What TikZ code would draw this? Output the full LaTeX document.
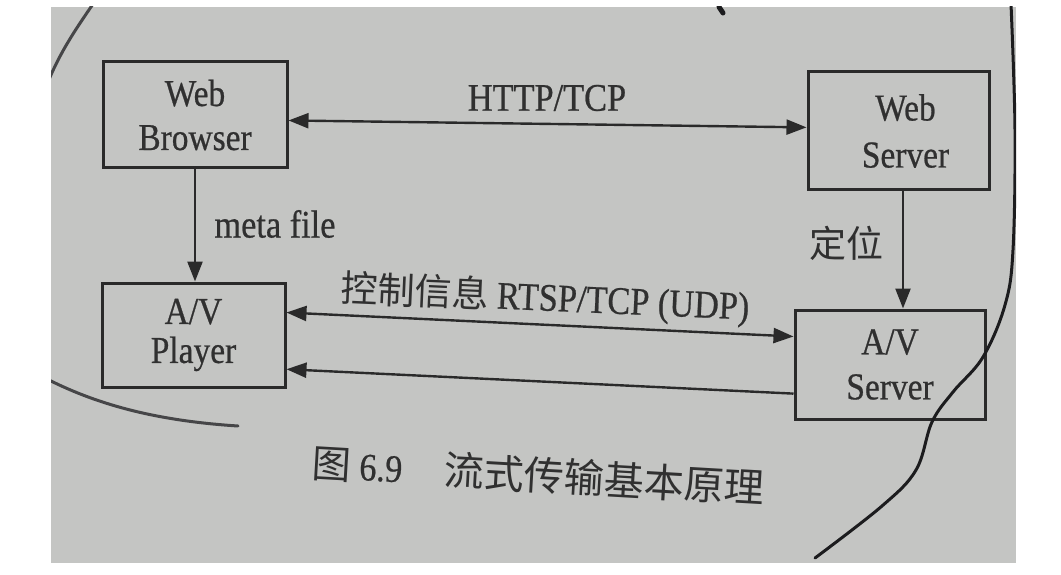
\documentclass[tikz,border=0pt]{standalone}
\usepackage{fontspec}
\setmainfont{Liberation Serif}[FakeStretch=0.88,FakeBold=0.6]
\newfontfamily\cjk{Noto Sans CJK SC}
\usetikzlibrary{arrows.meta,calc}
\definecolor{paper}{RGB}{196,197,195}
\definecolor{ink}{RGB}{48,48,48}
\definecolor{boxc}{RGB}{42,42,42}
\definecolor{pen}{RGB}{28,28,30}
\definecolor{penlight}{RGB}{70,70,72}
\begin{document}
\begin{tikzpicture}[x=1pt,y=-1pt,
  box/.style={draw=boxc, line width=3pt, inner sep=0pt, align=center, text=ink,
    font=\fontsize{38}{44}\selectfont},
  lbl/.style={inner sep=0pt, text=ink, font=\fontsize{39}{44}\selectfont},
  conn/.style={draw=boxc, line width=2.4pt, -{Triangle[length=20pt,width=15pt]}},
  dconn/.style={draw=boxc, line width=2.4pt, {Triangle[length=20pt,width=15pt]}-{Triangle[length=20pt,width=15pt]}},
  penline/.style={draw=pen, line width=3pt, line cap=round},
]
\useasboundingbox (0,0) rectangle (1061,575);
\fill[white] (0,0) rectangle (1061,575);
\fill[paper] (51,7) rectangle (1016,563);

% boxes
\node[box, minimum width=184pt, minimum height=106pt] (wb) at (195,115) {Web\\Browser};
\node[box, minimum width=181pt, minimum height=118pt] (ws) at (898.5,131) {\hspace*{14pt}Web\\[3pt]\hspace*{14pt}Server};
\node[box, minimum width=183pt, minimum height=104pt] (avp) at (193.5,335) {A/V\\[-5pt]Player};
\node[box, minimum width=190pt, minimum height=109pt] (avs) at (890,364.5) {A/V\\[1pt]Server};

% connector end points
\coordinate (h1) at ($(wb.north east)!0.55!(wb.south east)$);
\coordinate (h2) at ($(ws.north west)!0.47!(ws.south west)$);
\coordinate (c1) at ($(avp.north east)!0.29!(avp.south east)$);
\coordinate (c2) at ($(avs.north west)!0.25!(avs.south west)$);
\coordinate (r1) at ($(avp.north east)!0.82!(avp.south east)$);
\coordinate (r2) at ($(avs.north west)!0.76!(avs.south west)$);
\coordinate (d1) at ($(ws.south)+(4.5,0)$);

% connectors
\draw[dconn] (h1) -- (h2);
\draw[conn] (wb.south) -- (wb.south |- avp.north);
\draw[conn] (d1) -- (d1 |- avs.north);
\draw[dconn] (c1) -- (c2);
\draw[conn] (r2) -- (r1);

% labels
\node[lbl] (lhttp) at (547,98) {HTTP/TCP};
\node[lbl] (lmeta) at (275,224) {meta file};
\node[lbl, font=\cjk\fontsize{37}{44}\selectfont] (lloc) at (846,243) {定位};
\node[lbl, rotate=-2.5] (lctl) at (545,299) {{\cjk\fontsize{37}{44}\selectfont 控制信息} RTSP/TCP (UDP)};
\node[lbl, rotate=-3.3] (cap) at (538,475) {{\cjk\fontsize{39}{44}\selectfont 图} 6.9\hspace{42pt}{\cjk\fontsize{40}{44}\selectfont 流式传输基本原理}};

% hand-drawn pen strokes
\begin{scope}
\clip (51,7) rectangle (1016,563);
\draw[penline, draw=penlight] (93,4) .. controls (78,26) and (61,50) .. (48,82);
\draw[penline, draw=penlight] (47,379) .. controls (100,406) and (160,421) .. (238,426);
\draw[penline] plot[smooth, tension=0.6] coordinates {(1011,4) (1015,130) (1013,250) (1005,305) (983,357) (953,392) (932,422) (916,470) (882,506) (815,558)};
\draw[penline, line width=5pt] (719,7) -- (723,13);
\end{scope}
\end{tikzpicture}
\end{document}
